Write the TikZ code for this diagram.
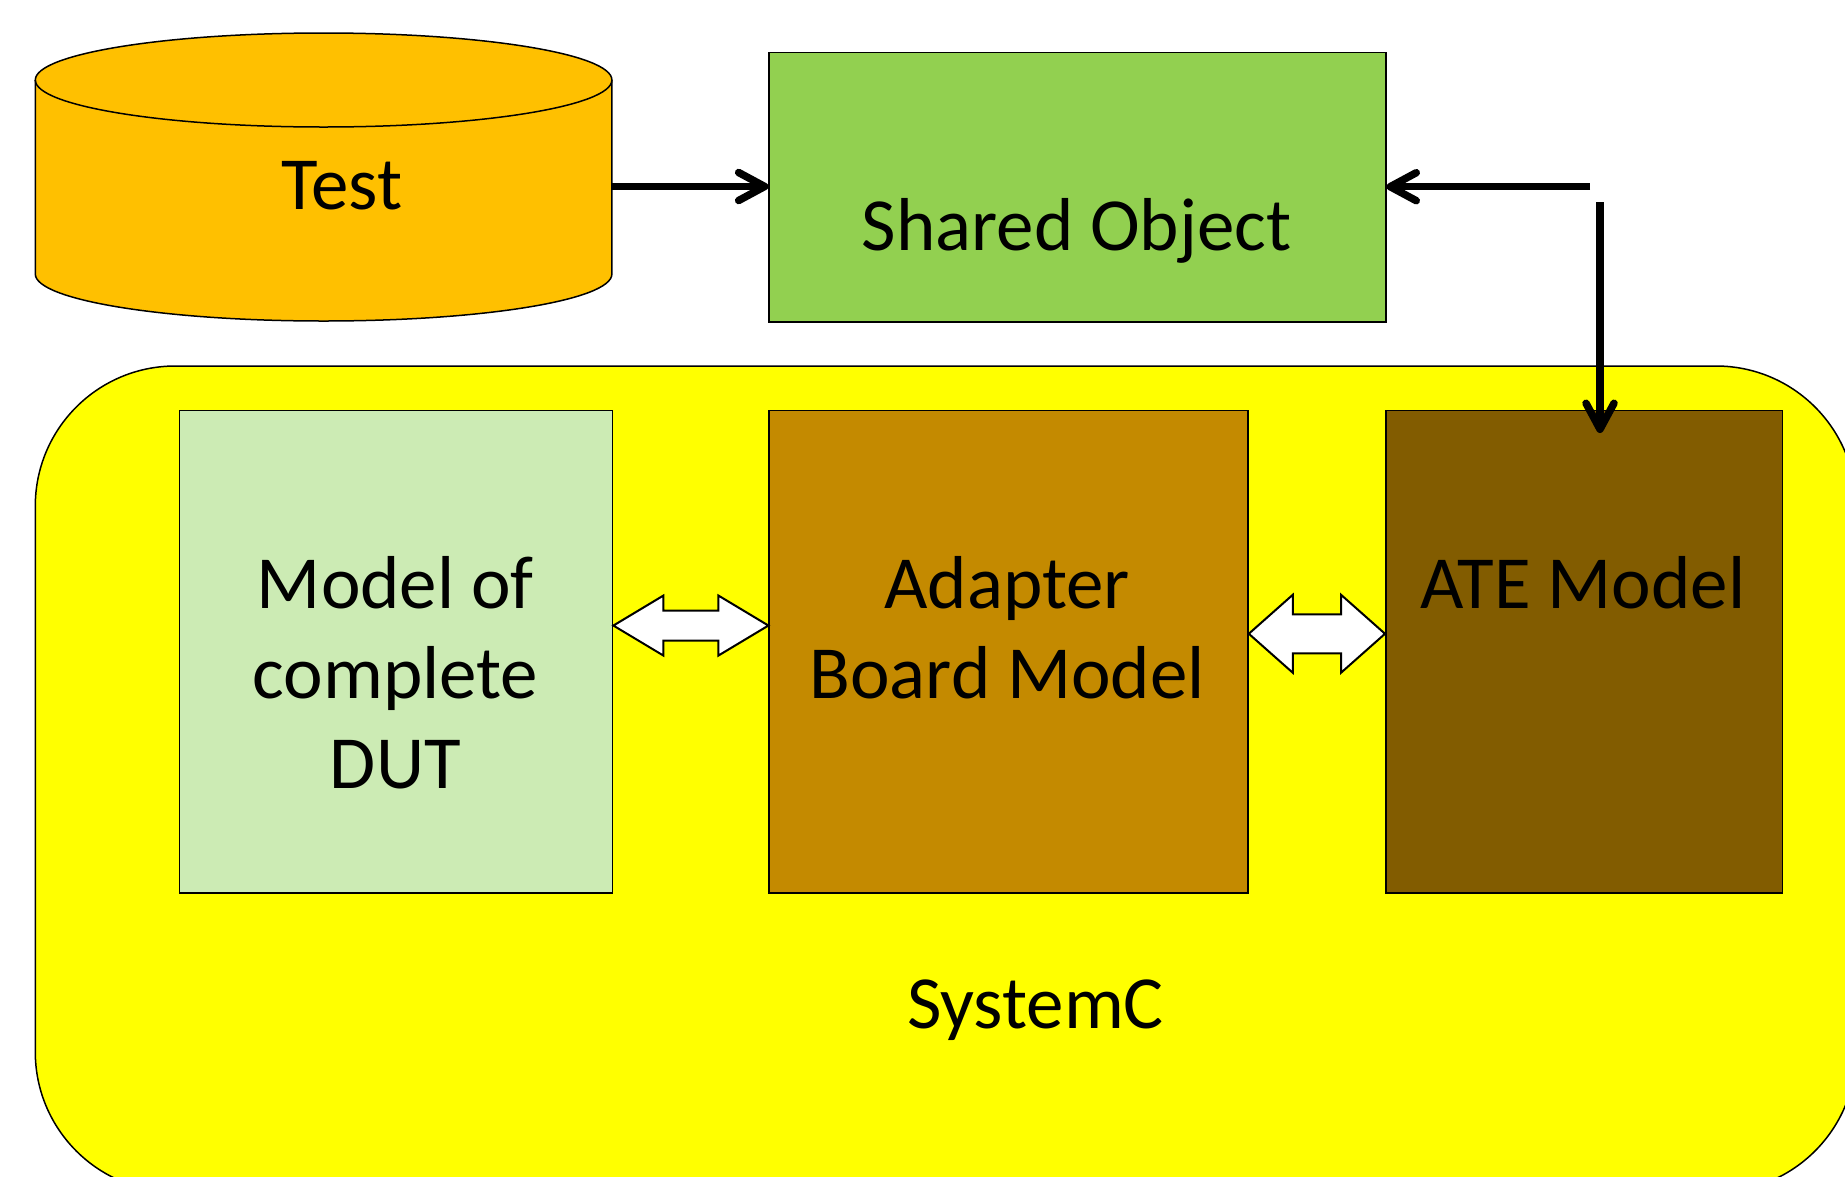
\documentclass[tikz,border=0pt]{standalone}
\usepackage{fontspec}
\setmainfont{Carlito}
\usetikzlibrary{arrows.meta,calc}
\definecolor{cylgold}{HTML}{FFC000}
\definecolor{sogreen}{HTML}{92D050}
\definecolor{dutgreen}{HTML}{CCEBB4}
\definecolor{adbrown}{HTML}{C48A00}
\definecolor{atebrown}{HTML}{825C00}
\definecolor{scyellow}{HTML}{FFFF00}
\tikzset{
  box/.style={draw=black, line width=1.5pt, inner sep=0pt},
  lbl/.style={font=\fontsize{75}{90}\selectfont, align=center, inner sep=0pt},
  conn/.style={line width=7.5pt, -{Straight Barb[length=26pt,width=28pt,line cap=round,line join=round]}},
  blockarr/.style={draw=black, fill=white, line width=2pt, line join=miter},
}
\newcommand{\dblarrow}[5]{%
  \draw[blockarr] (#1) -- ($(#1)+(#3,-#4)$) -- ($(#1)+(#3,-#5)$) -- ($(#2)+(-#3,-#5)$)
    -- ($(#2)+(-#3,-#4)$) -- (#2) -- ($(#2)+(-#3,#4)$) -- ($(#2)+(-#3,#5)$)
    -- ($(#1)+(#3,#5)$) -- ($(#1)+(#3,#4)$) -- cycle;}
\begin{document}
\begin{tikzpicture}[x=1pt,y=-1pt]
\useasboundingbox (0,0) rectangle (1845,1176);
% SystemC container
\begin{scope}
\clip (0,0) rectangle (1845,1176);
\draw[fill=scyellow, line width=1.5pt, rounded corners=140pt] (35.3,366) rectangle (1856,1192);
\end{scope}
\node[lbl] (sysc) at (1035.5,1010) {SystemC};
% Test cylinder
\fill[cylgold] (35.3,80) -- (35.3,274) arc[start angle=180,end angle=360,x radius=288.3pt,y radius=47pt]
  -- (611.9,80) arc[start angle=0,end angle=180,x radius=288.3pt,y radius=47pt] -- cycle;
\draw[line width=1.5pt] (35.3,80) -- (35.3,274) arc[start angle=180,end angle=360,x radius=288.3pt,y radius=47pt]
  -- (611.9,80) arc[start angle=0,end angle=180,x radius=288.3pt,y radius=47pt] -- cycle;
\draw[line width=1.5pt] (35.3,80) arc[start angle=180,end angle=360,x radius=288.3pt,y radius=47pt];
\node[lbl] (test) at (342,186) {Test};
\coordinate (testR) at (611.9,186.5);
% Shared object
\node[box, fill=sogreen, minimum width=616.6pt, minimum height=269.4pt, anchor=north west] (so) at (768.4,51.8) {};
\node[lbl] (solbl) at (1076.7,231) {Shared Object};
% Inner boxes
\node[box, fill=dutgreen, minimum width=433pt, minimum height=482.5pt, anchor=north west] (dut) at (178.9,409.5) {};
\node[box, fill=adbrown, minimum width=478.9pt, minimum height=482.5pt, anchor=north west] (adp) at (768.4,409.5) {};
\node[box, fill=atebrown, minimum width=396.5pt, minimum height=482.5pt, anchor=north west] (ate) at (1385,409.5) {};
\node[lbl] (dutlbl) at (395.4,673) {Model of\\complete\\DUT};
\node[lbl] (adplbl) at (1007.3,628) {Adapter\\Board Model};
\node[lbl] (atelbl) at (1582.7,582.5) {ATE Model};
% block double arrows
\path (dut.east) ++(0,-25.95) coordinate (a1l);
\path (adp.west) ++(0,-25.95) coordinate (a1r);
\dblarrow{a1l}{a1r}{50}{30}{15}
\path (adp.east) ++(0,-17.75) coordinate (a2l);
\path (ate.west) ++(0,-17.75) coordinate (a2r);
\dblarrow{a2l}{a2r}{44}{39}{19.5}
% connectors
\draw[conn] (testR) -- (so.west |- testR);
\coordinate (c1) at (1590,186.7);
\draw[conn] (c1) -- (so.east |- c1);
\coordinate (c2) at (1600,202);
\coordinate (c3) at (1600,433);
\draw[conn] (c2) -- (c3);
\end{tikzpicture}
\end{document}
